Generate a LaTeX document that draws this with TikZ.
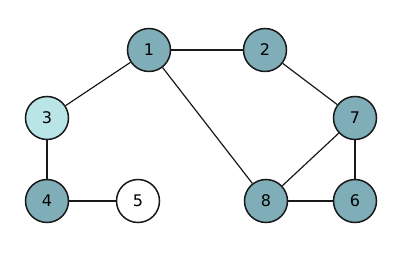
\documentclass[tikz,border=0pt]{standalone}
\usepackage{fontspec}
\setmainfont{DejaVu Sans}
\definecolor{darkteal}{HTML}{7FAEB8}
\definecolor{lightteal}{HTML}{B9E5E6}
\tikzset{
  vert/.style={circle, draw=black!90, line width=1.5pt, minimum size=43pt, inner sep=0pt, font=\fontsize{16}{16}\selectfont},
  dk/.style={vert, fill=darkteal},
  lt/.style={vert, fill=lightteal},
  wh/.style={vert, fill=white},
  edge/.style={line width=1.2pt, draw=black!90}
}
\begin{document}
\begin{tikzpicture}[x=1pt,y=-1pt]
\useasboundingbox (0,0) rectangle (400,264);
\node[dk] (n1) at (149,50) {1};
\node[dk] (n2) at (265,50) {2};
\node[lt] (n3) at (47,118) {3};
\node[dk] (n4) at (47,201) {4};
\node[wh] (n5) at (138,201) {5};
\node[dk] (n7) at (355,118) {7};
\node[dk] (n8) at (266,201) {8};
\node[dk] (n6) at (355,201) {6};
\draw[edge] (n1) -- (n2);
\draw[edge] (n1) -- (n3);
\draw[edge] (n1) -- (n8);
\draw[edge] (n2) -- (n7);
\draw[edge] (n3) -- (n4);
\draw[edge] (n4) -- (n5);
\draw[edge] (n7) -- (n8);
\draw[edge] (n7) -- (n6);
\draw[edge] (n8) -- (n6);
\end{tikzpicture}
\end{document}
